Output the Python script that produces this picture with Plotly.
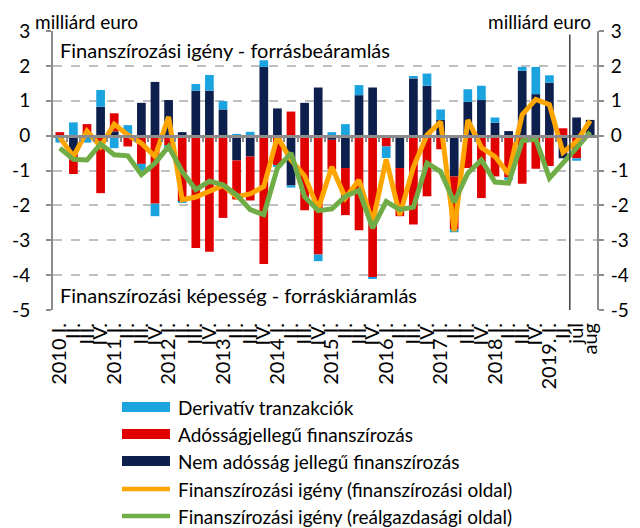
import plotly.graph_objects as go

# ---------------- data ----------------
tick_labels = [
    "2010 I.", "II.", "III.", "IV.",
    "2011 I.", "II.", "III.", "IV.",
    "2012 I.", "II.", "III.", "IV.",
    "2013 I.", "II.", "III.", "IV.",
    "2014 I.", "II.", "III.", "IV.",
    "2015 I.", "II.", "III.", "IV.",
    "2016 I.", "II.", "III.", "IV.",
    "2017 I.", "II.", "III.", "IV.",
    "2018 I.", "II.", "III.", "IV.",
    "2019. I.", "II.", "júl", "aug",
]

y_tick_vals = [-5, -4, -3, -2, -1, 0, 1, 2, 3]
y_tick_text = ["-5", "-4", "-3", "-2", "-1", "0", "1", "2", "3"]

nem_adossag = [0.00, -0.50, 0.03, 0.83, 0.12, 0.00, 0.94, 1.54, 1.02, 0.10,
               1.29, 1.29, 0.75, -0.71, -0.60, 1.97, 0.78, -1.43, 0.94, 1.38,
               -0.12, -0.93, 1.16, 1.38, 0.00, -0.93, 1.64, 1.43, 0.45, -1.17,
               0.97, 1.02, 0.37, 0.13, 1.86, 1.19, 1.52, -0.65, 0.52, 0.45]

adossag = [0.10, -0.60, 0.30, -1.65, 0.52, -0.31, -0.81, -1.95, -0.27, -1.89,
           -3.22, -3.33, -2.36, -1.12, -1.26, -3.68, -0.85, 0.69, -2.14, -3.41,
           -0.85, -1.35, -2.71, -4.06, -0.31, -1.38, -2.55, -1.74, -0.39, -1.52,
           -0.93, -1.79, -1.17, -1.20, -1.38, -0.95, -0.87, 0.21, -0.65, 0.00]

derivativ = [-0.20, 0.38, -0.20, 0.48, -0.36, 0.30, -0.22, -0.36, -0.19, -0.03,
             0.19, 0.45, 0.24, 0.05, 0.11, 0.19, -0.03, -0.06, 0.00, -0.19,
             0.10, 0.33, 0.29, -0.03, -0.33, 0.00, 0.07, 0.35, 0.30, -0.08,
             0.36, 0.41, 0.15, -0.07, 0.11, 0.78, 0.21, 0.00, -0.07, 0.00]

igeny_fin = [-0.05, -0.60, 0.13, -0.31, 0.33, 0.02, -0.22, -0.60, 0.54, -1.84,
             -1.76, -1.60, -1.43, -1.75, -1.67, -1.46, -0.03, -0.70, -1.15, -2.10,
             -0.89, -1.79, -1.27, -2.50, -0.68, -2.28, -0.90, 0.02, 0.40, -2.74,
             0.45, -0.34, -0.60, -1.10, 0.60, 1.04, 0.89, -0.48, -0.17, 0.43]

igeny_real = [-0.36, -0.68, -0.70, -0.24, -0.55, -0.58, -1.12, -0.79, -0.31, -1.03,
              -1.55, -1.31, -1.41, -1.70, -2.12, -2.27, -0.93, -0.50, -1.75, -2.15,
              -2.10, -1.74, -1.57, -2.65, -1.89, -2.12, -2.05, -0.79, -1.03, -1.91,
              -1.08, -0.70, -1.33, -1.36, -0.15, -0.10, -1.22, -0.80, -0.35, 0.10]

series_names = {
    "der": "Derivatív tranzakciók",
    "ados": "Adósságjellegű finanszírozás",
    "nem": "Nem adósság jellegű finanszírozás",
    "fin": "Finanszírozási igény (finanszírozási oldal)",
    "real": "Finanszírozási igény (reálgazdasági oldal)",
}

# ---------------- styles ----------------
NAVY = "#0D1F4C"
RED = "#E00000"
LBLUE = "#1BA3E0"
ORANGE = "#FFA500"
GREEN = "#70AD47"
AXIS = "#8C8C8C"
GRID = "#BFBFBF"
FONT = "Lato"

# page offset (browser body margin) and plot box in page pixels
OFF = 8
FIG_W, FIG_H = 632, 520
PL, PT, PR, PB = 53, 31, 597, 310   # plot box in page coords

x = list(range(len(tick_labels)))
n = len(x)

fig = go.Figure()
fig.add_bar(x=x, y=nem_adossag, marker_color=NAVY, marker_line_width=0,
            name=series_names["nem"], showlegend=False)
fig.add_bar(x=x, y=adossag, marker_color=RED, marker_line_width=0,
            name=series_names["ados"], showlegend=False)
fig.add_bar(x=x, y=derivativ, marker_color=LBLUE, marker_line_width=0,
            name=series_names["der"], showlegend=False)
fig.add_scatter(x=x, y=igeny_fin, mode="lines", line=dict(color=ORANGE, width=5),
                name=series_names["fin"], showlegend=False)
fig.add_scatter(x=x, y=igeny_real, mode="lines", line=dict(color=GREEN, width=5),
                name=series_names["real"], showlegend=False)
# helper traces so the zero-line axis and right axis are drawn
fig.add_scatter(x=x, y=[None] * n, xaxis="x2", yaxis="y", showlegend=False,
                hoverinfo="skip", mode="lines")
fig.add_scatter(x=x, y=[None] * n, xaxis="x", yaxis="y2", showlegend=False,
                hoverinfo="skip", mode="lines")

yr = [min(y_tick_vals), max(y_tick_vals)]
xr = [-0.5, n - 0.5]

yfont = dict(size=19, family=FONT, color="black")

fig.update_layout(
    width=FIG_W, height=FIG_H,
    margin=dict(l=PL - OFF, r=OFF + FIG_W - PR, t=PT - OFF, b=OFF + FIG_H - PB,
                autoexpand=False),
    paper_bgcolor="white", plot_bgcolor="white",
    font=dict(family=FONT, size=19, color="black"),
    barmode="relative", bargap=0.36,
    showlegend=False,
    xaxis=dict(range=xr, tickmode="array", tickvals=x, ticktext=tick_labels,
               tickangle=-90, showgrid=False, zeroline=False, showline=False,
               ticks="", ticklabelstandoff=8, automargin=False,
               tickfont=dict(size=20, family=FONT, color="black")),
    xaxis2=dict(overlaying="x", anchor="free",
                position=(0 - yr[0]) / (yr[1] - yr[0]), side="bottom",
                range=xr, tickmode="array",
                tickvals=[k - 0.5 for k in range(1, n)],
                ticks="outside", ticklen=5, tickwidth=1.5, tickcolor=AXIS,
                showticklabels=False, showline=True, linecolor=AXIS, linewidth=2.5,
                showgrid=False, zeroline=False, automargin=False),
    yaxis=dict(range=yr, tickmode="array", tickvals=y_tick_vals, ticktext=y_tick_text,
               showgrid=True, gridcolor=GRID,
               griddash="dash", gridwidth=1.5, zeroline=False,
               showline=True, linecolor=AXIS, linewidth=2,
               ticks="outside", ticklen=5, tickcolor=AXIS, tickwidth=1.5,
               ticklabelstandoff=12, automargin=False, tickfont=yfont),
    yaxis2=dict(range=yr, tickmode="array", tickvals=y_tick_vals, ticktext=y_tick_text,
                overlaying="y", side="right",
                showgrid=False, zeroline=False, showline=True, linecolor=AXIS,
                linewidth=2, ticks="outside", ticklen=5, tickcolor=AXIS,
                tickwidth=1.5, ticklabelstandoff=3, automargin=False, tickfont=yfont),
)

# separator between quarterly and monthly data
sep = tick_labels.index("júl") - 0.5
fig.add_shape(type="line", xref="x", yref="y", x0=sep, x1=sep, y0=yr[0], y1=yr[1] - 0.1,
              line=dict(color="#404040", width=1.5), layer="above")

plot_w = PR - PL
plot_h = PB - PT
def px_to_paper_x(px):
    return (px - PL) / plot_w
def px_to_paper_y(py):
    return (PB - py) / plot_h

# unit labels
fig.add_annotation(text="milliárd euro", xref="paper", yref="paper",
                   x=px_to_paper_x(34), y=px_to_paper_y(21),
                   xanchor="left", yanchor="middle", showarrow=False, borderpad=0,
                   font=dict(size=19, family=FONT))
fig.add_annotation(text="milliárd euro", xref="paper", yref="paper",
                   x=px_to_paper_x(592), y=px_to_paper_y(21),
                   xanchor="right", yanchor="middle", showarrow=False, borderpad=0,
                   font=dict(size=19, family=FONT))
# inside-plot texts
fig.add_annotation(text="Finanszírozási igény - forrásbeáramlás", xref="paper", yref="paper",
                   x=px_to_paper_x(58), y=px_to_paper_y(50), xanchor="left", yanchor="middle",
                   showarrow=False, font=dict(size=20, family=FONT))
fig.add_annotation(text="Finanszírozási képesség - forráskiáramlás", xref="paper", yref="paper",
                   x=px_to_paper_x(58), y=px_to_paper_y(295), xanchor="left", yanchor="middle",
                   showarrow=False, font=dict(size=20, family=FONT))

# manual legend
legend_items = [
    ("bar", LBLUE, series_names["der"]),
    ("bar", RED, series_names["ados"]),
    ("bar", NAVY, series_names["nem"]),
    ("line", ORANGE, series_names["fin"]),
    ("line", GREEN, series_names["real"]),
]
row_y = [407, 434, 461, 489, 516]
sw_x0, sw_x1, txt_x = 122, 170, 176
for (kind, color, label), ry in zip(legend_items, row_y):
    if kind == "bar":
        fig.add_shape(type="rect", xref="paper", yref="paper",
                      x0=px_to_paper_x(sw_x0), x1=px_to_paper_x(sw_x1),
                      y0=px_to_paper_y(ry + 5), y1=px_to_paper_y(ry - 5),
                      fillcolor=color, line=dict(width=0))
    else:
        fig.add_shape(type="line", xref="paper", yref="paper",
                      x0=px_to_paper_x(sw_x0), x1=px_to_paper_x(sw_x1),
                      y0=px_to_paper_y(ry), y1=px_to_paper_y(ry),
                      line=dict(color=color, width=4.5))
    fig.add_annotation(text=label, xref="paper", yref="paper",
                       x=px_to_paper_x(txt_x), y=px_to_paper_y(ry),
                       xanchor="left", yanchor="middle", showarrow=False,
                       font=dict(size=19, family=FONT))

fig.write_html("out.html")
